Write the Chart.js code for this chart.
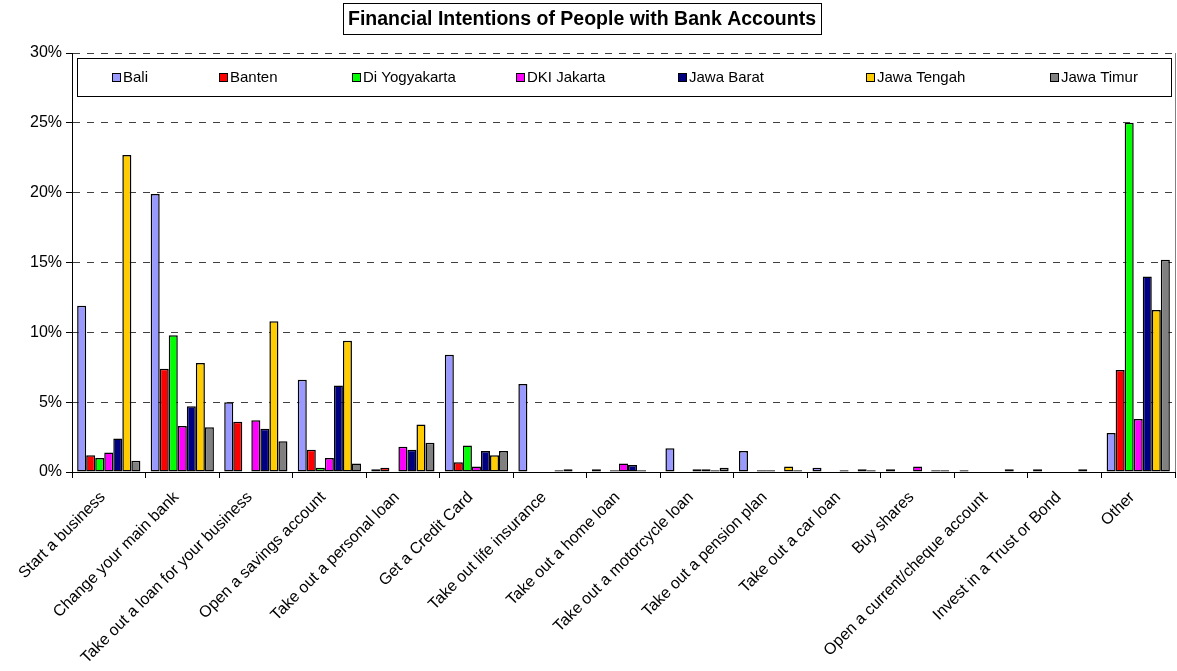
<!DOCTYPE html>
<html>
<head>
<meta charset="utf-8">
<script src="https://cdn.jsdelivr.net/npm/chart.js@4/dist/chart.umd.min.js"></script>
<style>
  html, body { margin: 0; padding: 0; background: #fff; }
  #wrap { width: 1177px; height: 671px; position: relative; }
</style>
</head>
<body>
<div id="wrap"><canvas id="c" width="1177" height="671"></canvas></div>
<script>
const chartTitle = "Financial Intentions of People with Bank Accounts";
const categories = ["Start a business","Change your main bank","Take out a loan for your business","Open a savings account","Take out a personal loan","Get a Credit Card","Take out life insurance","Take out a home loan","Take out a motorcycle loan","Take out a pension plan","Take out a car loan","Buy shares","Open a current/cheque account","Invest in a Trust or Bond","Other"];
const seriesNames = ["Bali","Banten","Di Yogyakarta","DKI Jakarta","Jawa Barat","Jawa Tengah","Jawa Timur"];
const bali    = [11.9, 19.9, 5.0, 6.6, 0.2, 8.4, 6.3, 0.2, 1.7, 1.5, 0.3, 0.2, 0.12, 0.2, 2.8];
const banten  = [1.2, 7.4, 3.6, 1.6, 0.3, 0.7, 0, 0, 0, 0, 0, 0, 0, 0, 7.3];
const yogya   = [1.0, 9.8, 0, 0.3, 0, 1.9, 0, 0.12, 0, 0.12, 0, 0, 0, 0, 25.0];
const dki     = [1.4, 3.3, 3.7, 1.0, 1.8, 0.4, 0, 0.6, 0.2, 0.12, 0.12, 0.4, 0, 0, 3.8];
const jabar   = [2.4, 4.7, 3.1, 6.2, 1.6, 1.5, 0.12, 0.5, 0.2, 0, 0, 0, 0, 0, 14.0];
const jateng  = [22.7, 7.8, 10.8, 9.4, 3.4, 1.2, 0.2, 0.12, 0.12, 0.4, 0.2, 0.12, 0.2, 0.2, 11.6];
const jatim   = [0.8, 3.2, 2.2, 0.6, 2.1, 1.5, 0, 0, 0.3, 0.12, 0.12, 0.12, 0, 0, 15.2];
const seriesValues = [bali, banten, yogya, dki, jabar, jateng, jatim];
const seriesColors = ["#9999FF","#FF0000","#00FF00","#FF00FF","#000080","#FFCC00","#808080"];
const yTicks = [0, 5, 10, 15, 20, 25, 30];

const FONT = '"Liberation Sans", Arial, sans-serif';
const legendX = [112, 219, 352, 516, 678, 866, 1050];

const decorPlugin = {
  id: 'decor',
  afterDraw(chart) {
    const ctx = chart.ctx;
    const ca = chart.chartArea;
    ctx.save();
    ctx.strokeStyle = '#808080';
    ctx.lineWidth = 1;
    ctx.beginPath();
    ctx.moveTo(Math.round(ca.right) + 0.5, ca.top);
    ctx.lineTo(Math.round(ca.right) + 0.5, ca.bottom);
    ctx.stroke();
    ctx.font = 'bold 19.5px ' + FONT;
    ctx.fillStyle = '#000';
    ctx.textAlign = 'center';
    ctx.textBaseline = 'middle';
    const tw = ctx.measureText(chartTitle).width;
    const tcx = 582;
    ctx.fillText(chartTitle, tcx, 19.5);
    ctx.strokeStyle = '#000';
    ctx.strokeRect(Math.round(tcx - tw / 2 - 5) + 0.5, 3.5, Math.round(tw + 10), 31);
    ctx.fillStyle = '#fff';
    ctx.fillRect(77, 58, 1094, 38);
    ctx.strokeStyle = '#000';
    ctx.strokeRect(77.5, 58.5, 1094, 38);
    ctx.font = '15px ' + FONT;
    ctx.textAlign = 'left';
    ctx.textBaseline = 'middle';
    seriesNames.forEach((n, i) => {
      const x = legendX[i];
      ctx.fillStyle = seriesColors[i];
      ctx.fillRect(x, 73, 9, 9);
      ctx.strokeStyle = '#000';
      ctx.strokeRect(x + 0.5, 73.5, 8, 8);
      ctx.fillStyle = '#000';
      ctx.fillText(n, x + 11, 78);
    });
    ctx.restore();
  }
};

new Chart(document.getElementById('c'), {
  type: 'bar',
  data: {
    labels: categories,
    datasets: seriesNames.map((n, i) => ({
      label: n,
      data: seriesValues[i],
      backgroundColor: seriesColors[i],
      borderColor: '#000',
      borderWidth: 1.5,
      borderSkipped: false,
      categoryPercentage: 0.86,
      barPercentage: 1.0
    }))
  },
  options: {
    responsive: false,
    animation: false,
    layout: { padding: { top: 53, right: 2, left: 0, bottom: 0 } },
    plugins: { legend: { display: false }, title: { display: false }, tooltip: { enabled: false } },
    scales: {
      x: {
        afterFit(s) { s.height = 199; },
        grid: { offset: true, drawOnChartArea: false, drawTicks: true, tickLength: 6, tickColor: '#000', color: '#000' },
        border: { display: true, color: '#000', width: 1 },
        ticks: { color: '#000', font: { family: FONT, size: 16 }, maxRotation: 45, minRotation: 45, autoSkip: false, padding: 10, labelOffset: -6 }
      },
      y: {
        min: 0, max: 30,
        afterFit(s) { s.width = 72; },
        afterBuildTicks(s) { s.ticks = yTicks.map(v => ({ value: v })); },
        grid: { color: (c) => c.tick && c.tick.value === 0 ? 'rgba(0,0,0,0)' : '#404040', lineWidth: 1, tickLength: 6, tickColor: '#000', drawTicks: true },
        border: { display: true, color: '#000', width: 1, dash: [7, 7] },
        ticks: { color: '#000', font: { family: FONT, size: 16 }, padding: 4, callback: v => v + '%' }
      }
    }
  },
  plugins: [decorPlugin]
});
</script>
</body>
</html>
